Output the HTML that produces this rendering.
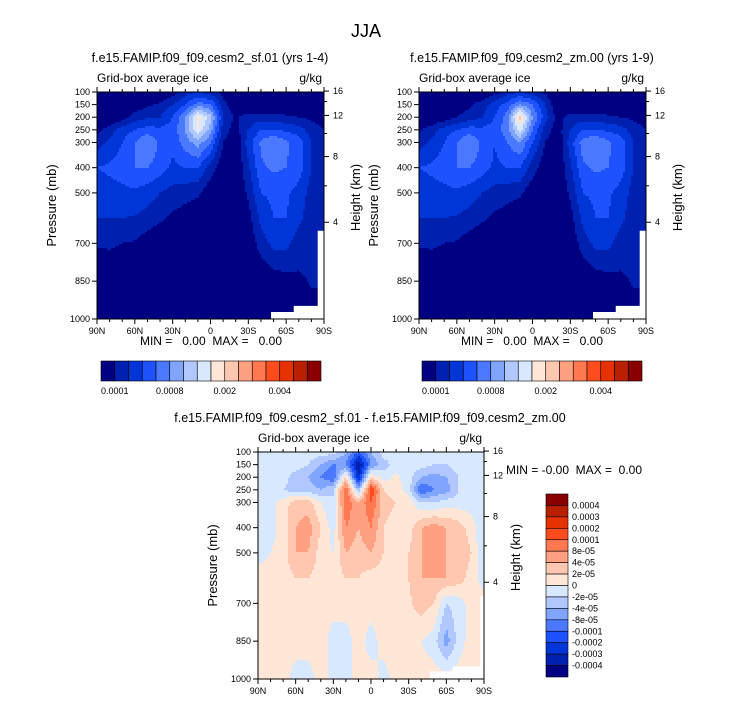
<!DOCTYPE html>
<html><head><meta charset="utf-8">
<style>
html,body{margin:0;padding:0;background:#fff;}
svg{display:block;font-family:"Liberation Sans",Arial,sans-serif;}
</style></head>
<body>
<svg id="root" width="733" height="703" viewBox="0 0 733 703" xmlns="http://www.w3.org/2000/svg">
<text x="366" y="37" font-size="18" text-anchor="middle">JJA</text>
</svg>
<script>
// ---- data ----
const lats=[90,80,70,60,50,40,30,20,10,0,-10,-20,-30,-40,-50,-60,-70,-80,-90];
const pLevels=[100,150,200,250,300,400,500,600,700,850,1000];
const fieldSF=[
[0,0,0,0,0,0,0.5,1.5,2,1.5,0.5,0,0,0,0,0,0,0,0],
[0,0,0,0.3,0.8,1.2,2,3,4.5,4,1.5,0,0,0,0,0,0,0,0],
[0,0,0.5,1.5,1.8,2,3,5,8.5,6.5,2,0.8,1.5,1.5,1.5,1.2,1,0.8,0.5],
[0.6,1.5,2.5,3,3.5,3.2,3.5,5,8,5.5,1.5,0.5,2,3,3,2.8,2.5,1.5,1],
[1.5,2.2,3,4,5,3.8,3.2,4.5,5.5,4,1,0.2,2.5,4.2,5,4.2,3.5,2,1.5],
[3,3.2,3.5,4,4,3.5,2.8,3,3,1.5,0.3,0,1.8,3.8,4.2,4,3.5,2,1.5],
[2.5,2.6,2.7,2.8,2.5,2,1.6,1.4,1.2,0.3,0,0,1.2,3,3.2,3.2,2.6,1.6,1.2],
[2,2,2,1.9,1.6,1.2,0.8,0.5,0.2,0,0,0,0.6,2.3,3,3,2.2,1.5,1.3],
[1.1,1.2,1,0.9,0.4,0.1,0,0,0,0,0,0,0.2,1.5,2.3,2.3,1.5,1.3,1.3],
[0,0,0,0,0,0,0,0,0,0,0,0,0,0,0.4,0.6,0.8,1.1,1.1],
[0,0,0,0,0,0,0,0,0,0,0,0,0,0,0,0,0,0.5,0.5]];
const fieldZM=[
[0,0,0,0,0,0,0.6,1.5,2,1.5,0.8,0,0,0,0,0,0,0,0],
[0,0,0,0.3,0.8,1.5,2.5,3.5,5,4,2,0,0,0,0,0,0,0,0],
[0,0,0.3,1,1.5,2,3,4.5,9.3,5,2.5,0.5,1.5,1.5,1.5,1.2,1,0.8,0.5],
[0.8,1.5,2.5,3,3.5,3.2,3.5,4.5,7.5,4,1.5,0.5,2,3,3,2.8,2.5,1.5,1],
[1.5,2.2,3,4,5,3.8,3,4,5,3,1,0.2,2.5,4.5,5,4.2,3.5,2,1.5],
[3,3.2,3.5,4,4,3.5,2.8,3,3,1.5,0.3,0,1.8,3.8,4.2,4,3.5,2,1.5],
[2.5,2.6,2.7,2.8,2.5,2,1.6,1.4,1.2,0.3,0,0,1.2,3,3.2,3.2,2.6,1.6,1.2],
[2,2,2,1.9,1.6,1.2,0.8,0.5,0.2,0,0,0,0.6,2.3,3,3,2.2,1.5,1.3],
[1.1,1.2,1,0.9,0.4,0.1,0,0,0,0,0,0,0.2,1.5,2.3,2.3,1.5,1.3,1.3],
[0,0,0,0,0,0,0,0,0,0,0,0,0,0,0.4,0.6,0.8,1.1,1.1],
[0,0,0,0,0,0,0,0,0,0,0,0,0,0,0,0,0,0.5,0.5]];
const fieldDiff=[
[7.5,7.5,7.5,7.5,7.5,7.5,7.5,6,4,6,7.5,7.5,7.5,7.5,7.5,7.5,7.5,7.5,7.5],
[7.5,7.5,7.5,7.5,7,6,5,5,1,5,6.5,7.5,7.5,7.5,7,7,7.5,7.5,7.5],
[7.5,7.5,7.5,6.5,6,5,4,9,2,9,7.5,8.2,7.5,6,5.5,6,7,7.5,7.5],
[7.5,7,7,6.5,6.5,6,7,12,6,13,9,8.5,7.5,4,5,5.5,7,7.5,7.5],
[7.5,7.5,8.5,9.5,9.5,8,7,12,10,12,9.5,9,8.5,7,7,7.5,7.5,7.5,7.5],
[7.5,7.5,8.5,10,10.5,9,7.5,11,10,11,9,8.5,8.5,10,10.5,10,9.5,8.5,7],
[7.5,8,8.5,10,10,8.5,8,10,9.5,10,9,8.5,9,10,10.5,10,10,9,7],
[8.5,8.5,8.5,9,9,8.5,8.5,9,9,8.5,8.5,8.5,9,10,10,10,9.5,8.5,7.5],
[8.5,8.5,8.5,9,8.5,8.5,8.5,8.5,8.5,8.5,8.5,8.5,8.8,9.5,9,7,7.5,8.5,8.5],
[8.5,8.5,8.5,8.5,8.5,8.5,7.5,7.5,8.5,7.5,8.5,8.5,8.5,8,7.5,5.5,7.5,8.5,8.5],
[8.5,8.5,8.5,7.5,7.5,8.5,7.5,7.5,8.5,8.5,7.5,8.5,8.5,8.5,8.5,8.5,8.5,8.5,8.5]];
const maskTop=[[-48,1000],[-48,972],[-66,972],[-66,948],[-85,948],[-85,650],[-90,650],[-90,1000]];
const maskDiff=[[-47,1000],[-47,970],[-65,970],[-65,950],[-87,950],[-87,670],[-90,670],[-90,1000]];
const palette=['#000083','#0020b0','#0035d8','#1f52ff','#4a78ff','#80a5ff','#b0c8ff','#d8e8ff','#ffe6d6','#ffc7b0','#ffa080','#ff7850','#ff4c1e','#e63200','#b82000','#8a0000'];
const xTickVals=[90,60,30,0,-30,-60,-90];
const xTickLabels=['90N','60N','30N','0','30S','60S','90S'];
const pTickVals=[100,150,200,250,300,400,500,700,850,1000];
const hTickVals=[4,8,12,16];
const cbTopLabels=['0.0001','0.0008','0.002','0.004'];
const cbTopLabelIdx=[1,5,9,13];
const cbDiffLabels=['0.0004','0.0003','0.0002','0.0001','8e-05','4e-05','2e-05','0','-2e-05','-4e-05','-8e-05','-0.0001','-0.0002','-0.0003','-0.0004'];

const NS='http://www.w3.org/2000/svg';
const root=document.getElementById('root');
function mk(tag,attrs,parent){const e=document.createElementNS(NS,tag);for(const k in attrs)e.setAttribute(k,attrs[k]);(parent||root).appendChild(e);return e;}
function txt(s,attrs,parent){const e=mk('text',attrs,parent);e.textContent=s;return e;}
function hToP(z){return 1013.25*Math.pow(1-2.25577e-5*z*1000,5.25588);}
function interp(field,lat,p){
  let u=(90-lat)/10;let i0=Math.min(17,Math.max(0,Math.floor(u)));let s=Math.max(0,Math.min(1,u-i0));
  let k=0;while(k<pLevels.length-2&&p>pLevels[k+1])k++;
  let t=(p-pLevels[k])/(pLevels[k+1]-pLevels[k]);t=Math.max(0,Math.min(1,t));
  const a=field[k][i0]*(1-s)+field[k][i0+1]*s;
  const b=field[k+1][i0]*(1-s)+field[k+1][i0+1]*s;
  return a*(1-t)+b*t;
}
function panel(name,x0,y0,w,h,field,mask,title,titleX){
  const g=mk('g',{});
  
  
  const xOf=lat=>x0+(90-lat)/180*w;
  const yOf=p=>y0+(p-100)/900*h;
  const step=2;
  const cells=mk('g',{'shape-rendering':'crispEdges'},g);
  
  
  for(let py=0;py<h;py+=step){
    const p=100+Math.min(py+step/2,h)/h*900;
    let runStart=0,runCol=null;
    for(let px=0;px<w+step;px+=step){
      let col=null;
      if(px<w){const lat=90-Math.min(px+step/2,w)/w*180;const v=interp(field,lat,p);col=palette[Math.max(0,Math.min(15,Math.floor(v)))];}
      if(col!==runCol){
        if(runCol!==null){
          const r=mk('rect',{x:x0+runStart,y:y0+py,width:Math.min(px,w)-runStart+0.5,height:Math.min(step+0.5,h-py),fill:runCol},cells);
          
          
        }
        runStart=px;runCol=col;
      }
    }
  }
  const m=mk('polygon',{points:mask.map(q=>xOf(q[0])+','+yOf(q[1])).join(' '),fill:'#fff'},g);
  
  
  const fr=mk('rect',{x:x0,y:y0,width:w,height:h,fill:'none',stroke:'#000','stroke-width':1},g);
  
  
  for(let lat=90;lat>=-90;lat-=10){
    const major=xTickVals.indexOf(lat)>=0;const L=major?5:3;const x=xOf(lat);
    mk('line',{x1:x,x2:x,y1:y0,y2:y0-L,stroke:'#000'},g);
    mk('line',{x1:x,x2:x,y1:y0+h,y2:y0+h+L,stroke:'#000'},g);
  }
  xTickVals.forEach((v,i)=>{const t=txt(xTickLabels[i],{x:xOf(v),y:y0+h+15,'font-size':9,'text-anchor':'middle'},g);
    
    });
  pTickVals.forEach(v=>{const y=yOf(v);mk('line',{x1:x0,x2:x0-5,y1:y,y2:y,stroke:'#000'},g);
    const t=txt(String(v),{x:x0-7,y:y+3,'font-size':9,'text-anchor':'end'},g);
    
    });
  for(let z=4;z<=16;z+=2){const y=yOf(hToP(z));const major=hTickVals.indexOf(z)>=0;
    mk('line',{x1:x0+w,x2:x0+w+(major?5:3),y1:y,y2:y,stroke:'#000'},g);}
  hTickVals.forEach(z=>{const y=yOf(hToP(z));const t=txt(String(z),{x:x0+w+9,y:y+3,'font-size':9},g);
    
    });
  const yl=txt('Pressure (mb)',{x:0,y:0,'font-size':13,'text-anchor':'middle',transform:`translate(${x0-41},${y0+h/2}) rotate(-90)`},g);
  
  
  const hl=txt('Height (km)',{x:0,y:0,'font-size':13,'text-anchor':'middle',transform:`translate(${x0+w+36},${y0+h/2-8}) rotate(-90)`},g);
  
  
  const ls=txt('Grid-box average ice',{x:x0,y:y0-10,'font-size':12},g);
  
  
  const un=txt('g/kg',{x:x0+w-2,y:y0-10,'font-size':12,'text-anchor':'end'},g);
  
  
  const tt=txt(title,{x:titleX,y:y0-30,'font-size':12.5,'text-anchor':'middle'},g);
  
  
}
function hbar(name,x0,y0,w,h){
  const g=mk('g',{});
  
  
  const bw=w/palette.length;
  palette.forEach((c,i)=>{const r=mk('rect',{x:x0+i*bw,y:y0,width:bw,height:h,fill:c,stroke:'#000','stroke-width':0.6},g);
    
    });
  cbTopLabels.forEach((s,i)=>{const t=txt(s,{x:x0+cbTopLabelIdx[i]*bw,y:y0+h+13,'font-size':9,'text-anchor':'middle'},g);
    
    });
}
panel('panel-sf01',97,92,227,227,fieldSF,maskTop,'f.e15.FAMIP.f09_f09.cesm2_sf.01 (yrs 1-4)',210);
panel('panel-zm00',419,92,227,227,fieldZM,maskTop,'f.e15.FAMIP.f09_f09.cesm2_zm.00 (yrs 1-9)',532);
panel('panel-diff',258,452,226,227,fieldDiff,maskDiff,'f.e15.FAMIP.f09_f09.cesm2_sf.01 - f.e15.FAMIP.f09_f09.cesm2_zm.00',370);
hbar('colorbar-sf01',101,361,220,20);
hbar('colorbar-zm00',422,361,220,20);
[[211,345,'MIN =   0.00  MAX =   0.00'],[532,345,'MIN =   0.00  MAX =   0.00'],[574,474,'MIN = -0.00  MAX =  0.00']].forEach(a=>{
  const t=txt(a[2],{x:a[0],y:a[1],'font-size':12,'text-anchor':'middle','xml:space':'preserve'});
  
  
  t.style.whiteSpace='pre';
});
(function(){
  const g=mk('g',{});
  
  
  const x0=546,y0=494,w=22,h=183,bh=h/palette.length;
  for(let i=0;i<palette.length;i++){
    const r=mk('rect',{x:x0,y:y0+i*bh,width:w,height:bh,fill:palette[palette.length-1-i],stroke:'#000','stroke-width':0.6},g);
    
    
  }
  cbDiffLabels.forEach((s,i)=>{const t=txt(s,{x:x0+w+4,y:y0+(i+1)*bh+3,'font-size':9},g);
    
    });
})();
</script>
</body></html>
